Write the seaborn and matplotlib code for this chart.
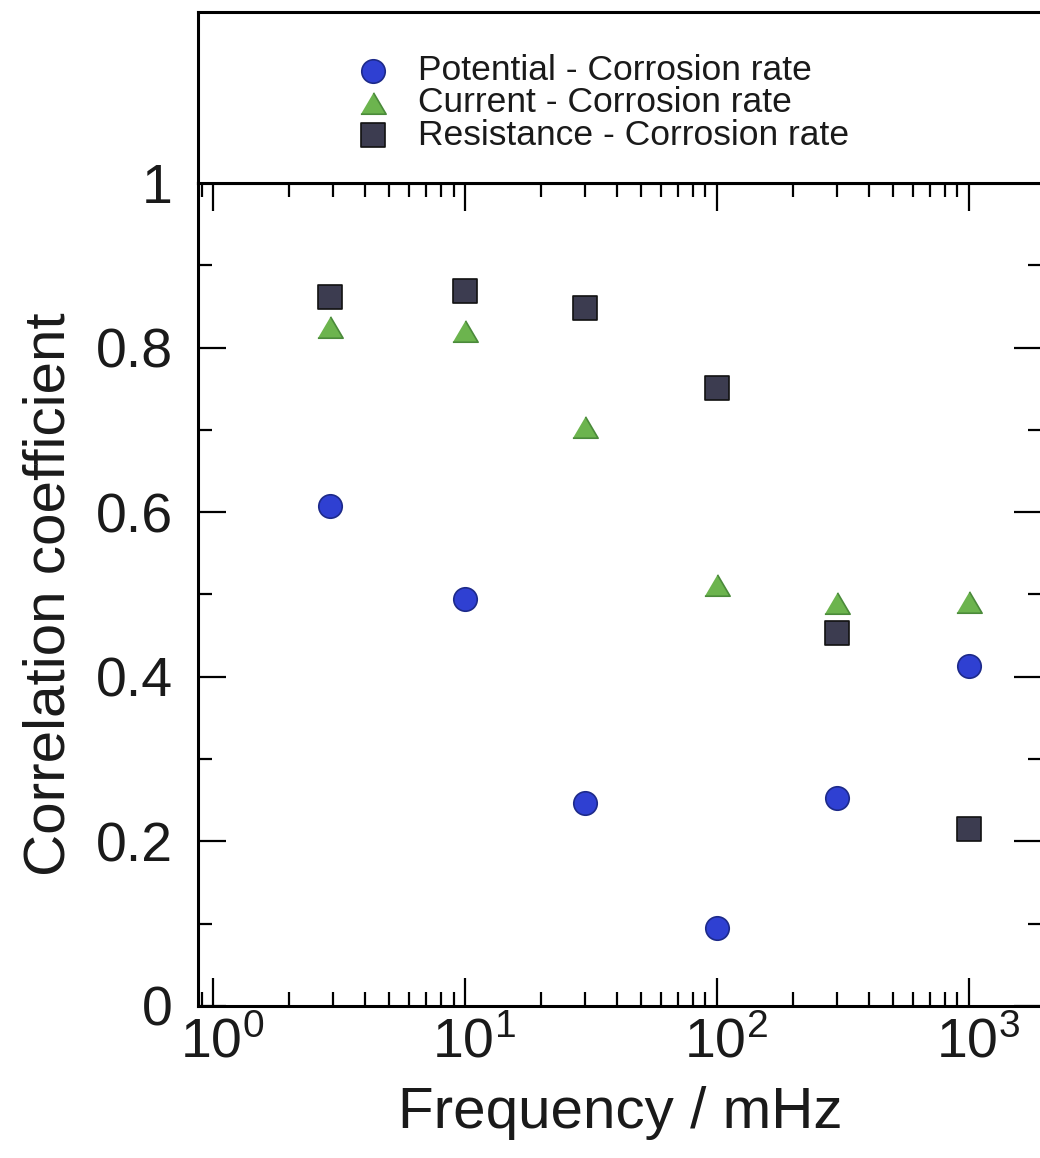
import numpy as np
import pandas as pd
import matplotlib
matplotlib.use("Agg")
import matplotlib.pyplot as plt
import matplotlib.ticker as mticker
import matplotlib.transforms as mtransforms
import seaborn as sns

# ---- data ----
frequency = [2.9, 10, 30, 100, 300, 1000]
potential_corr = [0.607, 0.495, 0.247, 0.095, 0.253, 0.413]
current_corr = [0.825, 0.820, 0.704, 0.511, 0.490, 0.491]
resistance_corr = [0.861, 0.869, 0.848, 0.751, 0.453, 0.215]
series_labels = ["Potential - Corrosion rate", "Current - Corrosion rate",
                 "Resistance - Corrosion rate"]
y_ticks = [0, 0.2, 0.4, 0.6, 0.8, 1]
y_tick_labels = ["0", "0.2", "0.4", "0.6", "0.8", "1"]
x_ticks = [1, 10, 100, 1000]
x_tick_labels = [r"$\mathregular{10^{0}}$", r"$\mathregular{10^{1}}$",
                 r"$\mathregular{10^{2}}$", r"$\mathregular{10^{3}}$"]

sns.set_style("ticks")
plt.rcParams["font.family"] = ["Liberation Sans", "DejaVu Sans"]
plt.rcParams["mathtext.default"] = "regular"

W, H = 1040, 1158
fig = plt.figure(figsize=(W / 100, H / 100), dpi=100)

L = 198 / W
R = 1042 / W
B = 1 - 1006 / H
T = 1 - 183 / H
TOP = 1 - 12 / H

ax = fig.add_axes([L, B, R - L, T - B])
ax_leg = fig.add_axes([L, T, R - L, TOP - T])

tri = [(-1, -0.85), (1, -0.85), (0, 0.85)]

styles = [
    (potential_corr, "o", 285, "#2f40d2", "#1d2a8a"),
    (current_corr, tri, 330, "#6cb44e", "#4a8a3a"),
    (resistance_corr, "s", 300, "#3c3c50", "#111111"),
]
for (vals, mk, s, fc, ec), lab in zip(styles, series_labels):
    df = pd.DataFrame({"Frequency": frequency, "Corr": vals})
    sns.scatterplot(data=df, x="Frequency", y="Corr", marker=mk, s=s,
                    color=fc, edgecolor=ec, linewidth=1.2, label=lab,
                    ax=ax, zorder=3)

ax.set_xscale("log")
ax.set_xlim(10 ** (-0.06), 10 ** 3.29)
ax.set_ylim(0, 1)
ax.set_xticks(x_ticks)
ax.set_xticklabels(x_tick_labels)
ax.xaxis.set_minor_locator(mticker.LogLocator(base=10, subs=np.arange(2, 10)))
ax.xaxis.set_minor_formatter(mticker.NullFormatter())
ax.set_yticks(y_ticks)
ax.set_yticklabels(y_tick_labels)
ax.yaxis.set_minor_locator(mticker.MultipleLocator(0.1))

ax.tick_params(which="major", direction="in", length=20, width=1.6,
               top=True, right=True, labelsize=40, pad=18, color="black",
               labelcolor="#1a1a1a")
ax.tick_params(axis="x", which="major", pad=8)
ax.tick_params(which="minor", direction="in", length=10, width=1.6,
               top=True, right=True, color="black")

offset = mtransforms.ScaledTranslation(9 / 100, 0, fig.dpi_scale_trans)
for lbl in ax.get_xticklabels():
    lbl.set_transform(lbl.get_transform() + offset)

for sp in ax.spines.values():
    sp.set_linewidth(2.2)
    sp.set_color("black")
for sp in ax_leg.spines.values():
    sp.set_linewidth(2.2)
    sp.set_color("black")
ax_leg.set_xticks([])
ax_leg.set_yticks([])

ax.set_xlabel("Frequency / mHz", fontsize=42, color="#1a1a1a", labelpad=12)
ax.set_ylabel("Correlation coefficient", fontsize=42, color="#1a1a1a",
              labelpad=14)

handles, labels = ax.get_legend_handles_labels()
ax.get_legend().remove()
ax_leg.legend(handles, labels, loc="upper left",
              bbox_to_anchor=(361 / W, 1 - 54 / H),
              bbox_transform=fig.transFigure, frameon=False,
              fontsize=25.5, handlelength=0.66, handletextpad=0.95,
              labelspacing=-0.02, borderpad=0, borderaxespad=0,
              labelcolor="#1a1a1a")

fig.savefig("out.png", dpi=100)
